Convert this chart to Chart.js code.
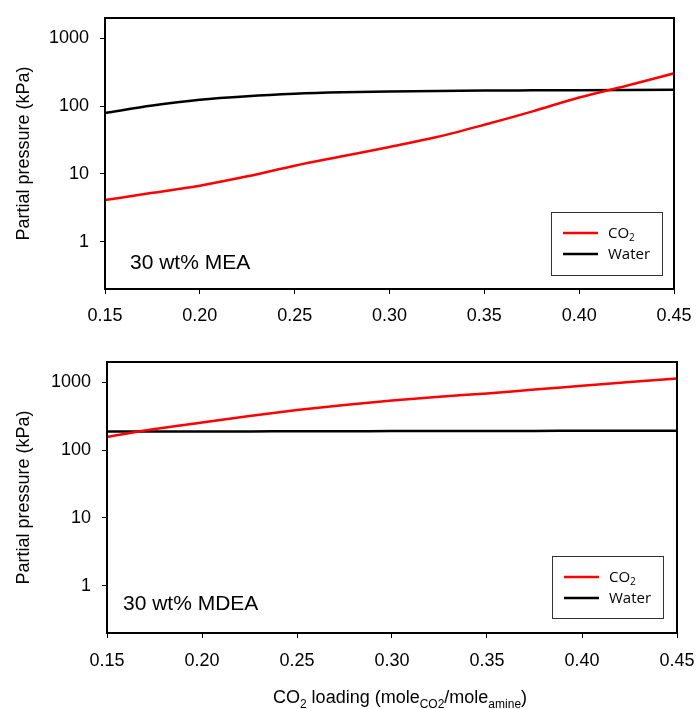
<!DOCTYPE html>
<html lang="en">
<head>
    <meta charset="UTF-8">
    <title>Partial pressure vs CO2 loading</title>
    <script src="https://cdn.jsdelivr.net/npm/chart.js"></script>
    <style>
        body { margin: 0; background: #fff; }
        #wrap { position: relative; width: 696px; height: 709px; }
        canvas { position: absolute; left: 0; }
        #meaChart { top: 0; }
        #mdeaChart { top: 340px; }
    </style>
</head>
<body>
<div id="wrap">
    <canvas id="meaChart" width="696" height="340"></canvas>
    <canvas id="mdeaChart" width="696" height="369"></canvas>
</div>
<script>
// CO2 loading (mole CO2 / mole amine)
const loading = [0.15, 0.175, 0.20, 0.225, 0.25, 0.275, 0.30, 0.325, 0.35, 0.375, 0.40, 0.425, 0.45];
const xTicks = [0.15, 0.20, 0.25, 0.30, 0.35, 0.40, 0.45];
const yTicks = [1, 10, 100, 1000];

// 30 wt% MEA (kPa)
const meaCO2 = [4.1, 5.25, 6.7, 9.2, 13.2, 18.2, 25, 35, 53, 83, 134, 200, 305];
const meaWater = [79, 102, 124, 140, 152, 160, 165, 168, 170, 171, 172, 173, 174];

// 30 wt% MDEA (kPa)
const mdeaCO2 = [157, 205, 256, 320, 390, 465, 540, 615, 688, 785, 890, 1010, 1146];
const mdeaWater = [188, 188, 189, 189, 190, 190, 191, 191, 192, 192, 193, 193, 193];

const axisFont = 'Arial, "Liberation Sans", sans-serif';
const legendFont = '"Open Sans", sans-serif';

// draws text made of pieces, some of them subscripts
function drawRich(ctx, parts, x, y, align) {
    let total = 0;
    parts.forEach(p => {
        ctx.font = p.size + 'px ' + p.family;
        p.w = ctx.measureText(p.t).width;
        total += p.w;
    });
    let cx = align === 'center' ? x - total / 2 : x;
    ctx.textBaseline = 'alphabetic';
    ctx.textAlign = 'left';
    parts.forEach(p => {
        ctx.font = p.size + 'px ' + p.family;
        ctx.fillText(p.t, cx, y + (p.dy || 0));
        cx += p.w;
    });
}

const extras = {
    id: 'extras',
    afterDraw(chart, args, opts) {
        const ctx = chart.ctx;
        const a = chart.chartArea;
        ctx.save();
        // frame round the plot
        ctx.strokeStyle = '#000';
        ctx.lineWidth = 2;
        ctx.strokeRect(a.left, a.top, a.right - a.left, a.bottom - a.top);

        // label inside the plot
        ctx.fillStyle = '#000';
        ctx.font = '21px ' + axisFont;
        ctx.textBaseline = 'alphabetic';
        ctx.fillText(opts.label, opts.labelX, opts.labelY);

        // legend box
        const b = opts.legend;
        ctx.fillStyle = '#fff';
        ctx.fillRect(b.x, b.y, b.w, b.h);
        ctx.lineWidth = 1;
        ctx.strokeStyle = '#333';
        ctx.strokeRect(b.x + 0.5, b.y + 0.5, b.w, b.h);
        chart.data.datasets.forEach((ds, i) => {
            const ry = b.y + 21 + i * 21;
            ctx.strokeStyle = ds.borderColor;
            ctx.lineWidth = 2.5;
            ctx.beginPath();
            ctx.moveTo(b.x + 12, ry);
            ctx.lineTo(b.x + 47, ry);
            ctx.stroke();
            ctx.fillStyle = '#000';
            drawRich(ctx, ds.richLabel, b.x + 57, ry + 5, 'left');
        });

        // x axis title (bottom chart only)
        if (opts.xTitle) {
            ctx.fillStyle = '#000';
            drawRich(ctx, opts.xTitle, opts.xTitleX, opts.xTitleY, 'center');
        }
        ctx.restore();
    }
};

function co2Label() {
    return [
        { t: 'CO', size: 15, family: legendFont },
        { t: '2', size: 10, family: legendFont, dy: 3 }
    ];
}

function makeChart(id, co2, water, o) {
    const ctx = document.getElementById(id).getContext('2d');
    return new Chart(ctx, {
        type: 'line',
        data: {
            datasets: [{
                label: 'CO2',
                richLabel: co2Label(),
                data: loading.map((x, i) => ({ x: x, y: co2[i] })),
                borderColor: '#ff0000',
                borderWidth: 2.5,
                pointRadius: 0,
                cubicInterpolationMode: 'monotone',
                fill: false
            }, {
                label: 'Water',
                richLabel: [{ t: 'Water', size: 15, family: legendFont }],
                data: loading.map((x, i) => ({ x: x, y: water[i] })),
                borderColor: '#000000',
                borderWidth: 2.5,
                pointRadius: 0,
                cubicInterpolationMode: 'monotone',
                fill: false
            }]
        },
        options: {
            responsive: false,
            animation: false,
            layout: { padding: { left: 0, right: o.padRight, top: o.padTop, bottom: 0 } },
            plugins: {
                legend: { display: false },
                tooltip: { enabled: false },
                extras: o.extras
            },
            scales: {
                x: {
                    type: 'linear',
                    min: 0.15,
                    max: 0.45,
                    afterBuildTicks: s => { s.ticks = xTicks.map(v => ({ value: v })); },
                    afterFit: s => { s.height = o.xHeight; s.paddingLeft = 0; s.paddingRight = 0; },
                    ticks: {
                        color: '#000',
                        font: { family: axisFont, size: 18 },
                        padding: o.xPad,
                        maxRotation: 0,
                        callback: v => v.toFixed(2)
                    },
                    grid: { drawOnChartArea: false, drawTicks: true, tickLength: 5, color: '#000', lineWidth: 1 },
                    border: { display: true, color: '#000', width: 2 }
                },
                y: {
                    type: 'logarithmic',
                    min: 0.2,
                    max: 2000,
                    afterBuildTicks: s => { s.ticks = yTicks.map(v => ({ value: v })); },
                    afterFit: s => { s.width = o.yWidth; s.paddingTop = 0; s.paddingBottom = 0; },
                    ticks: {
                        color: '#000',
                        font: { family: axisFont, size: 18 },
                        padding: 11,
                        callback: v => String(v)
                    },
                    grid: { drawOnChartArea: false, drawTicks: true, tickLength: 5, color: '#000', lineWidth: 1 },
                    border: { display: true, color: '#000', width: 2 },
                    title: {
                        display: true,
                        text: 'Partial pressure (kPa)',
                        color: '#000',
                        font: { family: axisFont, size: 18 },
                        padding: { top: 13, bottom: 0 }
                    }
                }
            }
        },
        plugins: [extras]
    });
}

makeChart('meaChart', meaCO2, meaWater, {
    padRight: 22, padTop: 18, xHeight: 51, xPad: 11, yWidth: 105,
    extras: {
        label: '30 wt% MEA', labelX: 130, labelY: 269,
        legend: { x: 551, y: 212, w: 111, h: 63 }
    }
});

makeChart('mdeaChart', mdeaCO2, mdeaWater, {
    padRight: 19, padTop: 22, xHeight: 76, xPad: 12, yWidth: 107,
    extras: {
        label: '30 wt% MDEA', labelX: 123, labelY: 270,
        legend: { x: 552, y: 216, w: 111, h: 62 },
        xTitle: [
            { t: 'CO', size: 18, family: axisFont },
            { t: '2', size: 12, family: axisFont, dy: 5 },
            { t: ' loading (mole', size: 18, family: axisFont },
            { t: 'CO2', size: 12, family: axisFont, dy: 5 },
            { t: '/mole', size: 18, family: axisFont },
            { t: 'amine', size: 12, family: axisFont, dy: 5 },
            { t: ')', size: 18, family: axisFont }
        ],
        xTitleX: 400, xTitleY: 363
    }
});
</script>
</body>
</html>
